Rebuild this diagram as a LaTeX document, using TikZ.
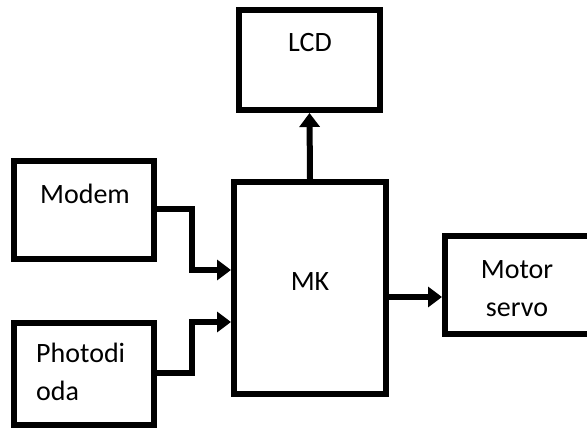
\documentclass[tikz,border=0pt]{standalone}
\usepackage{fontspec}
\setmainfont{Carlito}
\usetikzlibrary{arrows.meta}
\tikzstyle{blk} = [rectangle, draw, line width=6pt, inner sep=0pt]
\tikzstyle{lbl} = [inner sep=0pt, font=\fontsize{28}{38}\selectfont]
\tikzstyle{arr} = [line width=6pt, -{Triangle[length=14pt,width=20pt]}]

\begin{document}
\begin{tikzpicture}[x=1pt,y=-1pt]
	\useasboundingbox (0,0) rectangle (587,428);
	\clip (0,0) rectangle (587,428);
	% blocks
	\node[blk, minimum width=141pt, minimum height=100pt] (lcd) at (309.5,60) {};
	\node[blk, minimum width=152pt, minimum height=212pt] (mk) at (310,288) {};
	\node[blk, minimum width=140pt, minimum height=98pt] (modem) at (84,210) {};
	\node[blk, minimum width=140pt, minimum height=102pt] (photo) at (84,374) {};
	\node[blk, minimum width=160pt, minimum height=98pt] (motor) at (525,285) {};
	% texts
	\node[lbl, anchor=base] (lcdtxt) at (310,52) {LCD};
	\node[lbl, anchor=base] (mktxt) at (310,290) {MK};
	\node[lbl, anchor=base] (modemtxt) at (85,203) {Modem};
	\node[lbl, anchor=base west, align=left] (phototxt) at (36,400) {Photodi\\oda};
	\node[lbl, anchor=base, align=center] (motortxt) at (517,316) {Motor\\servo};
	% connectors
	\coordinate (m1) at (192,209);
	\coordinate (m2) at (192,270);
	\coordinate (p1) at (192,373);
	\coordinate (p2) at (192,322);
	\draw[arr] (mk.north) -- (lcd.south);
	\draw[arr] (modem.east |- m1) -- (m1) -- (m2) -- (mk.west |- m2);
	\draw[arr] (photo.east |- p1) -- (p1) -- (p2) -- (mk.west |- p2);
	\draw[arr] (mk.east |- 0,297) -- (motor.west |- 0,297);
\end{tikzpicture}
\end{document}
